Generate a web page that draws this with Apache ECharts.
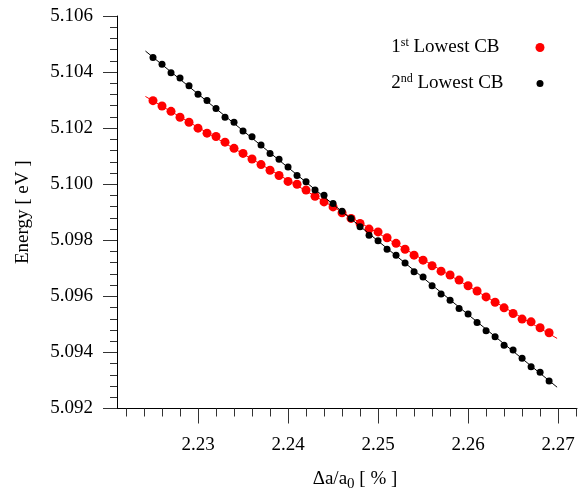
<!DOCTYPE html>
<html>
<head>
<meta charset="utf-8">
<script src="https://cdn.jsdelivr.net/npm/echarts@6/dist/echarts.min.js"></script>
<style>
html,body{margin:0;padding:0;background:#fff;}
#chart{width:579px;height:493px;}
</style>
</head>
<body>
<div id="chart"></div>
<script>
// ---- data ----
var xValues = [2.225,2.226,2.227,2.228,2.229,2.230,2.231,2.232,2.233,2.234,2.235,2.236,2.237,2.238,2.239,
  2.240,2.241,2.242,2.243,2.244,2.245,2.246,2.247,2.248,2.249,2.250,2.251,2.252,2.253,2.254,
  2.255,2.256,2.257,2.258,2.259,2.260,2.261,2.262,2.263,2.264,2.265,2.266,2.267,2.268,2.269];
var lowestCB1 = [5.10298,5.10279,5.10260,5.10239,5.10221,5.10200,5.10182,5.10170,5.10150,5.10128,
  5.10110,5.10090,5.10070,5.10050,5.10031,5.10010,5.10000,5.09979,5.09957,5.09937,
  5.09919,5.09898,5.09878,5.09860,5.09840,5.09830,5.09809,5.09789,5.09768,5.09747,
  5.09729,5.09709,5.09690,5.09676,5.09658,5.09638,5.09619,5.09598,5.09579,5.09559,
  5.09539,5.09519,5.09509,5.09488,5.09470];
var lowestCB2 = [5.10452,5.10428,5.10398,5.10379,5.10351,5.10321,5.10299,5.10270,5.10239,5.10221,
  5.10190,5.10169,5.10140,5.10110,5.10089,5.10061,5.10031,5.10009,5.09979,5.09961,
  5.09931,5.09904,5.09878,5.09848,5.09818,5.09798,5.09768,5.09747,5.09719,5.09688,
  5.09669,5.09638,5.09608,5.09586,5.09557,5.09537,5.09507,5.09477,5.09456,5.09426,
  5.09409,5.09379,5.09349,5.09329,5.09298];
var fitX = [2.22416, 2.26989];
var fit1Y = [5.10313, 5.09450];
var fit2Y = [5.10475, 5.09276];
var seriesNames = ['1st Lowest CB', '2nd Lowest CB'];
var xTicks = [2.23, 2.24, 2.25, 2.26, 2.27];
var xMinorTicks = [2.222,2.224,2.226,2.228,2.232,2.234,2.236,2.238,2.242,2.244,2.246,2.248,
  2.252,2.254,2.256,2.258,2.262,2.264,2.266,2.268,2.272];
var yTicks = [5.092, 5.094, 5.096, 5.098, 5.100, 5.102, 5.104, 5.106];
var yMinorTicks = [5.0924,5.0928,5.0932,5.0936,5.0944,5.0948,5.0952,5.0956,5.0964,5.0968,5.0972,5.0976,
  5.0984,5.0988,5.0992,5.0996,5.1004,5.1008,5.1012,5.1016,5.1024,5.1028,5.1032,5.1036,
  5.1044,5.1048,5.1052,5.1056];
var xRange = [2.221, 2.2721];
var yRange = [5.092, 5.106];

// ---- chart ----
var FONT = '"Liberation Serif", "DejaVu Serif", serif';
function pairs(xs, ys){ return xs.map(function(x,i){ return [x, ys[i]]; }); }
function legendFmt(spacer){
  return function(name){
    return name.replace(/^(\d)(st|nd)/, '$1{sup|$2}') + '{sp' + spacer + '|}';
  };
}
var legendRich = {
  sup: {fontFamily: FONT, fontSize: 12, color: '#000', verticalAlign: 'top', padding: [0,0,9,0]},
  sp31: {width: 31},
  sp28: {width: 28}
};
var chart = echarts.init(document.getElementById('chart'), null, {renderer: 'canvas'});
var tickColor = '#333';
chart.setOption({
  animation: false,
  backgroundColor: '#fff',
  textStyle: {fontFamily: FONT},
  grid: {left: 117, top: 16, width: 460, height: 392.5, outerBoundsMode: 'none'},
  legend: [
    {data: [seriesNames[0]], right: 34.5, top: 37, orient: 'vertical', align: 'right', padding: 0,
     itemWidth: 9, itemHeight: 9, itemGap: 0, selectedMode: false,
     formatter: legendFmt(31),
     textStyle: {fontFamily: FONT, fontSize: 19, color: '#000', rich: legendRich}},
    {data: [seriesNames[1]], right: 35.5, top: 73, orient: 'vertical', align: 'right', padding: 0,
     itemWidth: 7, itemHeight: 7, itemGap: 0, selectedMode: false,
     formatter: legendFmt(28),
     textStyle: {fontFamily: FONT, fontSize: 19, color: '#000', rich: legendRich}}
  ],
  xAxis: [
    {type: 'value', min: xRange[0], max: xRange[1], position: 'bottom',
     name: 'Δa/a{sub|0} [ % ]', nameLocation: 'middle', nameGap: 58,
     nameTextStyle: {fontFamily: FONT, fontSize: 19, color: '#000', padding: [0,0,0,16],
       rich: {sub: {fontFamily: FONT, fontSize: 15, color: '#000', verticalAlign: 'bottom', padding: [10,0,0,0]}}},
     axisLine: {show: true, onZero: false, lineStyle: {color: '#000', width: 1}},
     axisTick: {show: true, inside: false, length: 15, customValues: xTicks, lineStyle: {color: tickColor}},
     axisLabel: {show: true, customValues: xTicks, margin: 27, fontFamily: FONT, fontSize: 19, color: '#000',
       formatter: function(v){ return v.toFixed(2); }},
     splitLine: {show: false}},
    {type: 'value', min: xRange[0], max: xRange[1], position: 'bottom',
     axisLine: {show: false, onZero: false},
     axisTick: {show: true, inside: false, length: 8, customValues: xMinorTicks, lineStyle: {color: tickColor}},
     axisLabel: {show: false},
     splitLine: {show: false}}
  ],
  yAxis: [
    {type: 'value', min: yRange[0], max: yRange[1], position: 'left',
     name: 'Energy [ eV ]', nameLocation: 'middle', nameGap: 84, nameRotate: 90,
     nameTextStyle: {fontFamily: FONT, fontSize: 19, color: '#000'},
     axisLine: {show: true, onZero: false, lineStyle: {color: '#000', width: 1}},
     axisTick: {show: true, inside: false, length: 14, customValues: yTicks, lineStyle: {color: tickColor}},
     axisLabel: {show: true, customValues: yTicks, margin: 24, fontFamily: FONT, fontSize: 19, color: '#000',
       formatter: function(v){ return v.toFixed(3); }},
     splitLine: {show: false}},
    {type: 'value', min: yRange[0], max: yRange[1], position: 'left',
     axisLine: {show: false, onZero: false},
     axisTick: {show: true, inside: false, length: 7, customValues: yMinorTicks, lineStyle: {color: tickColor}},
     axisLabel: {show: false},
     splitLine: {show: false}}
  ],
  series: [
    {type: 'line', name: 'fit1', data: pairs(fitX, fit1Y), symbol: 'none', silent: true,
     lineStyle: {color: '#ff0000', width: 1}, z: 2},
    {type: 'scatter', name: seriesNames[0], data: pairs(xValues, lowestCB1), symbol: 'circle', symbolSize: 9,
     itemStyle: {color: '#ff0000', opacity: 1}, z: 3},
    {type: 'line', name: 'fit2', data: pairs(fitX, fit2Y), symbol: 'none', silent: true,
     lineStyle: {color: '#000', width: 1}, z: 4},
    {type: 'scatter', name: seriesNames[1], data: pairs(xValues, lowestCB2), symbol: 'circle', symbolSize: 7,
     itemStyle: {color: '#000', opacity: 1}, z: 5}
  ]
});
</script>
</body>
</html>
